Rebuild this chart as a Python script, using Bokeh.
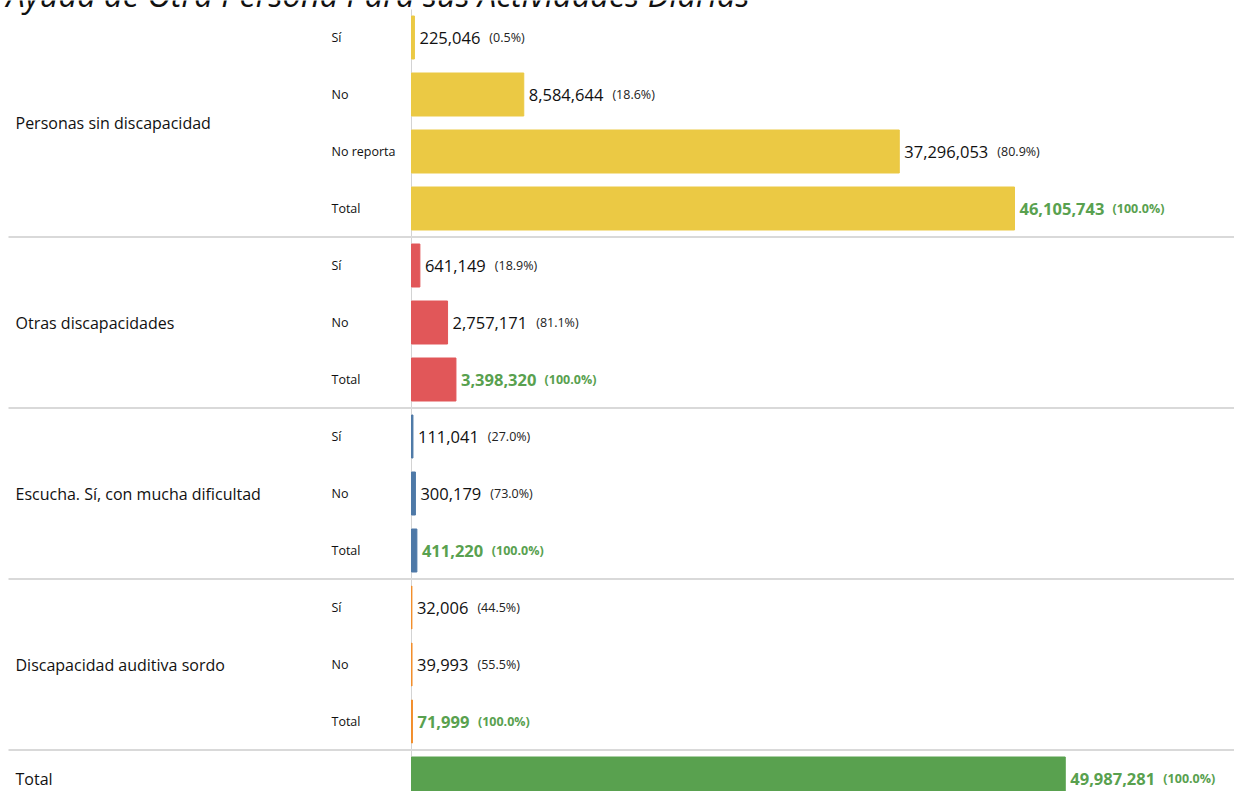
from bokeh.plotting import figure
from bokeh.models import Range1d, ColumnDataSource
from bokeh.core.properties import value
from bokeh.embed import file_html
from bokeh.resources import INLINE

# ---------------- data ----------------
title_text = "Ayuda de Otra Persona Para sus Actividades Diarias"
groups = ["Personas sin discapacidad", "Otras discapacidades",
          "Escucha. Sí, con mucha dificultad", "Discapacidad auditiva sordo"]
group_colors = ["#EBC944", "#E15759", "#4E79A7", "#F28E2B"]
sub_labels = [["Sí", "No", "No reporta", "Total"],
              ["Sí", "No", "Total"],
              ["Sí", "No", "Total"],
              ["Sí", "No", "Total"]]
sub_values = [[225046, 8584644, 37296053, 46105743],
              [641149, 2757171, 3398320],
              [111041, 300179, 411220],
              [32006, 39993, 71999]]
grand_label = "Total"
grand_value = 49987281
grand_color = "#59A14F"
total_text_color = "#59A14F"

# ---------------- layout ----------------
W, H = 1234, 791
ZERO_PX = 411            # zero line position inside the canvas
SCALE_PX = 603           # pixels for the first group's total
k = SCALE_PX / sub_values[0][-1]
x_start = -ZERO_PX / k
x_end = (W - ZERO_PX) / k
ROW = 57.0
TOP_PAD = 37.0
y_top = -TOP_PAD / ROW
y_bottom = (H - TOP_PAD) / ROW


def px2x(px):
    return x_start + px / k


def px2y(py):
    return y_top + py / ROW


FONT = "Open Sans"
REG_W = {c: 0.572 for c in "0123456789"}
REG_W.update({",": 0.26, ".": 0.267})


def text_w(s, size):
    return sum(REG_W.get(c, 0.57) for c in s) * size


VAL_SIZE = 16.5
PCT_SIZE = 12.5

# build rows
bars = dict(y=[], right=[], color=[])
vals = dict(x=[], y=[], t=[], off=[])
pcts = dict(x=[], y=[], t=[], off=[])
tvals = dict(x=[], y=[], t=[], off=[])
tpcts = dict(x=[], y=[], t=[], off=[])
subs = dict(x=[], y=[], t=[])
grps = dict(x=[], y=[], t=[])
seps = []

row = 0
for g, col, labs, vs in zip(groups, group_colors, sub_labels, sub_values):
    total = vs[-1]
    first = row
    for lab, v in zip(labs, vs):
        bars["y"].append(row)
        bars["right"].append(v)
        bars["color"].append(col)
        subs["x"].append(px2x(331))
        subs["y"].append(row)
        subs["t"].append(lab)
        vt = f"{v:,}"
        pt = f"({100.0 * v / total:.1f}%)"
        tgt_v, tgt_p = (tvals, tpcts) if lab == "Total" else (vals, pcts)
        tgt_v["x"].append(v); tgt_v["y"].append(row); tgt_v["t"].append(vt); tgt_v["off"].append(5)
        tgt_p["x"].append(v); tgt_p["y"].append(row); tgt_p["t"].append(pt)
        tgt_p["off"].append(5 + text_w(vt, VAL_SIZE) + 9)
        row += 1
    grps["x"].append(px2x(15))
    grps["y"].append((first + row - 1) / 2)
    grps["t"].append(g)
    seps.append(row - 0.5)

# grand total
bars["y"].append(row); bars["right"].append(grand_value); bars["color"].append(grand_color)
gt = f"{grand_value:,}"
tvals["x"].append(grand_value); tvals["y"].append(row); tvals["t"].append(gt); tvals["off"].append(5)
tpcts["x"].append(grand_value); tpcts["y"].append(row); tpcts["t"].append("(100.0%)")
tpcts["off"].append(5 + text_w(gt, VAL_SIZE) + 9)
grps["x"].append(px2x(15)); grps["y"].append(row); grps["t"].append(grand_label)

# ---------------- figure ----------------
p = figure(width=W, height=H, output_backend="svg", toolbar_location=None,
           x_range=Range1d(x_start, x_end), y_range=Range1d(y_bottom, y_top),
           min_border=0, outline_line_color=None,
           background_fill_color="white", border_fill_color="white")
p.axis.visible = False
p.grid.visible = False

# zero line and group separators
p.segment(x0=[0], y0=[px2y(9)], x1=[0], y1=[y_bottom], line_color="#d3d3d3", line_width=1)
p.segment(x0=[px2x(8)] * len(seps), y0=seps, x1=[x_end] * len(seps), y1=seps,
          line_color="#d9d9d9", line_width=2)

p.hbar(y="y", left=0, right="right", height=43 / ROW, color="color",
       line_width=1, source=ColumnDataSource(bars))

common = dict(text_font=value(FONT), text_baseline="middle", text_align="left")
p.text(x="x", y="y", text="t", x_offset="off", source=ColumnDataSource(vals),
       text_font_size=value(f"{VAL_SIZE}px"), text_color="#111111", **common)
p.text(x="x", y="y", text="t", x_offset="off", source=ColumnDataSource(pcts),
       text_font_size=value(f"{PCT_SIZE}px"), text_color="#222222", **common)
p.text(x="x", y="y", text="t", x_offset="off", source=ColumnDataSource(tvals),
       text_font_size=value(f"{VAL_SIZE}px"), text_color=total_text_color,
       text_font_style="bold", **common)
p.text(x="x", y="y", text="t", x_offset="off", source=ColumnDataSource(tpcts),
       text_font_size=value(f"{PCT_SIZE}px"), text_color=total_text_color,
       text_font_style="bold", **common)
p.text(x="x", y="y", text="t", source=ColumnDataSource(subs),
       text_font_size=value("12.5px"), text_color="#111111", **common)
p.text(x="x", y="y", text="t", source=ColumnDataSource(grps),
       text_font_size=value("16px"), text_color="#111111", **common)

# title (cut off at the top edge, as in the source view)
p.text(x=[px2x(6)], y=[px2y(-6)], text=[title_text], text_font=value(FONT),
       text_font_size=value("32.5px"), text_font_style="italic", text_color="#111111",
       text_baseline="alphabetic", text_align="left")

open("out.html", "w").write(file_html(p, INLINE))
